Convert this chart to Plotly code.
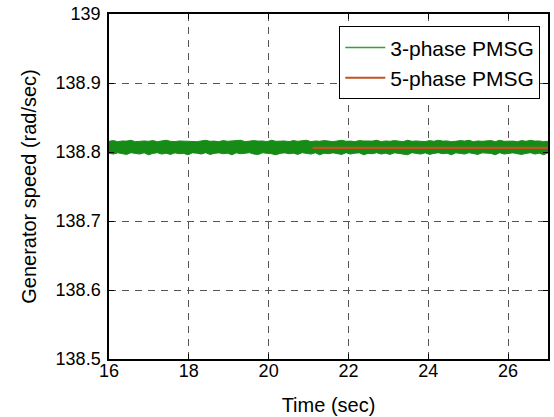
import numpy as np
import plotly.graph_objects as go

# ---- data ----
# 3-phase PMSG: the speed ripple is drawn as its upper / lower envelope
speed_3phase_upper = [
    138.8155, 138.8165, 138.815, 138.816, 138.8158, 138.817, 138.815, 138.8158, 138.816, 138.8155,
    138.8165, 138.815, 138.8158, 138.817, 138.8155, 138.815, 138.816, 138.8158, 138.8165, 138.8155,
    138.815, 138.816, 138.817, 138.8155, 138.8158, 138.815, 138.8165, 138.8155, 138.816, 138.8158,
    138.817, 138.815, 138.8155, 138.8165, 138.8158, 138.816, 138.815, 138.817, 138.8155, 138.8158,
    138.816, 138.815, 138.8165, 138.8155, 138.8158, 138.817, 138.815, 138.816, 138.8155, 138.8165,
    138.8158, 138.815, 138.816, 138.817, 138.8155, 138.8158, 138.815, 138.8165, 138.816, 138.8155,
    138.8158, 138.817, 138.815, 138.816, 138.8155, 138.8165, 138.8158, 138.815, 138.817, 138.8155,
    138.816, 138.8158, 138.815, 138.8165, 138.8155, 138.817, 138.8158, 138.816, 138.815, 138.8155,
    138.8165, 138.8158, 138.817, 138.815, 138.816, 138.8155, 138.8158, 138.8165, 138.815, 138.817,
    138.8155, 138.816, 138.8158, 138.815, 138.8165, 138.8155, 138.817, 138.8158, 138.816, 138.815,
    138.8155,
]
speed_3phase_lower = [
    138.7983, 138.797, 138.7988, 138.7975, 138.7965, 138.799, 138.798, 138.797, 138.7988, 138.796,
    138.798, 138.799, 138.797, 138.7983, 138.7965, 138.7988, 138.7975, 138.798, 138.796, 138.7988,
    138.7983, 138.797, 138.799, 138.7965, 138.798, 138.7988, 138.7975, 138.7983, 138.796, 138.7988,
    138.7975, 138.798, 138.799, 138.797, 138.7965, 138.7988, 138.7983, 138.7975, 138.796, 138.798,
    138.7988, 138.7975, 138.7983, 138.7965, 138.799, 138.798, 138.797, 138.7988, 138.796, 138.7983,
    138.7975, 138.7988, 138.798, 138.7965, 138.799, 138.797, 138.7983, 138.7988, 138.796, 138.798,
    138.7975, 138.799, 138.797, 138.7983, 138.7965, 138.7988, 138.798, 138.7975, 138.796, 138.799,
    138.7983, 138.797, 138.7988, 138.7965, 138.798, 138.799, 138.7975, 138.7983, 138.796, 138.7988,
    138.798, 138.797, 138.799, 138.7975, 138.7965, 138.7988, 138.7983, 138.798, 138.796, 138.799,
    138.797, 138.7983, 138.7988, 138.7975, 138.7965, 138.798, 138.799, 138.797, 138.7983, 138.796,
    138.7988,
]
time_3phase = np.linspace(16, 27, len(speed_3phase_upper))

time_5phase = [21.1, 27.0]
speed_5phase = [138.806, 138.806]

x_ticks = [16, 18, 20, 22, 24, 26]
y_ticks = [138.5, 138.6, 138.7, 138.8, 138.9, 139]
y_tick_labels = ["138.5", "138.6", "138.7", "138.8", "138.9", "139"]

FONT = "Liberation Sans, Arial, sans-serif"
GREEN = "#168c16"
ORANGE = "#c0531f"

fig = go.Figure()
fig.add_trace(go.Scatter(
    x=time_3phase, y=speed_3phase_lower, mode="lines", showlegend=False,
    line=dict(color=GREEN, width=1), hoverinfo="skip",
))
fig.add_trace(go.Scatter(
    x=time_3phase, y=speed_3phase_upper, mode="lines", showlegend=False,
    line=dict(color=GREEN, width=1), fill="tonexty", fillcolor=GREEN,
))
fig.add_trace(go.Scatter(
    x=[None], y=[None], mode="lines", name="3-phase PMSG",
    line=dict(color="#3a9e3a", width=1.5),
))
fig.add_trace(go.Scatter(
    x=time_5phase, y=speed_5phase, mode="lines", name="5-phase PMSG",
    line=dict(color=ORANGE, width=2.2),
))

axis_common = dict(
    showline=True, linecolor="black", linewidth=1.5, mirror="ticks",
    ticks="inside", ticklen=5, tickcolor="black",
    showgrid=True, gridcolor="#555555", gridwidth=1.2, griddash="7px,6px",
    zeroline=False, tickfont=dict(family=FONT, size=18, color="black"),
)

fig.update_xaxes(
    range=[16, 27], tickvals=x_ticks, ticktext=[str(v) for v in x_ticks],
    ticklabelstandoff=-5,
    title=dict(text="Time (sec)", font=dict(family=FONT, size=20, color="black"), standoff=18),
    **axis_common,
)
fig.update_yaxes(
    range=[138.5, 139], tickvals=y_ticks, ticktext=y_tick_labels,
    ticklabelstandoff=3,
    title=dict(text="Generator speed (rad/sec)", font=dict(family=FONT, size=20, color="black"), standoff=14),
    **axis_common,
)

fig.update_layout(
    width=554, height=417,
    margin=dict(l=109, r=4, t=14, b=56),
    plot_bgcolor="white", paper_bgcolor="white",
    legend=dict(
        x=0.982, y=0.965, xanchor="right", yanchor="top",
        bgcolor="white", bordercolor="black", borderwidth=1.2,
        font=dict(family=FONT, size=21, color="black"),
        tracegroupgap=0, itemwidth=40, traceorder="normal",
    ),
    showlegend=True,
)

fig.write_html("out.html")
